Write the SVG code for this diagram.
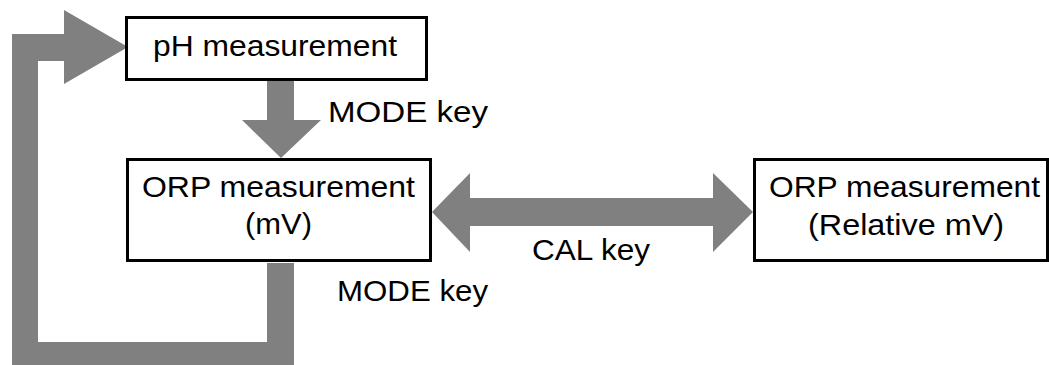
<svg xmlns="http://www.w3.org/2000/svg" width="1049" height="365" viewBox="0 0 1049 365">
<style>
.box{fill:#fff;stroke:#000;stroke-width:3}
.arr{fill:#808080;stroke:none}
text{font-family:"Liberation Sans",Arial,sans-serif;font-size:29px;fill:#000}
.c{text-anchor:middle}
</style>
<rect width="1049" height="365" fill="#fff"/>
<g id="connectors">
<polygon class="arr" points="267,263 294,263 294,370 12,370 12,34 64,34 64,10 128,47 64,84 64,61 38,61 38,342 267,342"/>
<polygon class="arr" points="267,81 294,81 294,120 321,120 281,158 242,120 267,120"/>
<polygon class="arr" points="432,212 470,173 470,198 713,198 713,173 753,212 713,252 713,226 470,226 470,252"/>
<text x="328" y="122" textLength="160" lengthAdjust="spacingAndGlyphs">MODE key</text>
<text x="337" y="301" textLength="151" lengthAdjust="spacingAndGlyphs">MODE key</text>
<text x="532" y="260" textLength="118" lengthAdjust="spacingAndGlyphs">CAL key</text>
</g>
<g id="ph">
<rect class="box" x="126.5" y="17.5" width="300" height="62"/>
<text x="153" y="56" textLength="244" lengthAdjust="spacingAndGlyphs">pH measurement</text>
</g>
<g id="orp-mv">
<rect class="box" x="127.5" y="159.5" width="303" height="101"/>
<text x="142" y="197" textLength="273" lengthAdjust="spacingAndGlyphs">ORP measurement</text>
<text x="245" y="234" textLength="67" lengthAdjust="spacingAndGlyphs">(mV)</text>
</g>
<g id="orp-rel">
<rect class="box" x="754.5" y="159.5" width="293" height="101"/>
<text x="769" y="197" textLength="271" lengthAdjust="spacingAndGlyphs">ORP measurement</text>
<text x="808" y="235" textLength="196" lengthAdjust="spacingAndGlyphs">(Relative mV)</text>
</g>
</svg>
